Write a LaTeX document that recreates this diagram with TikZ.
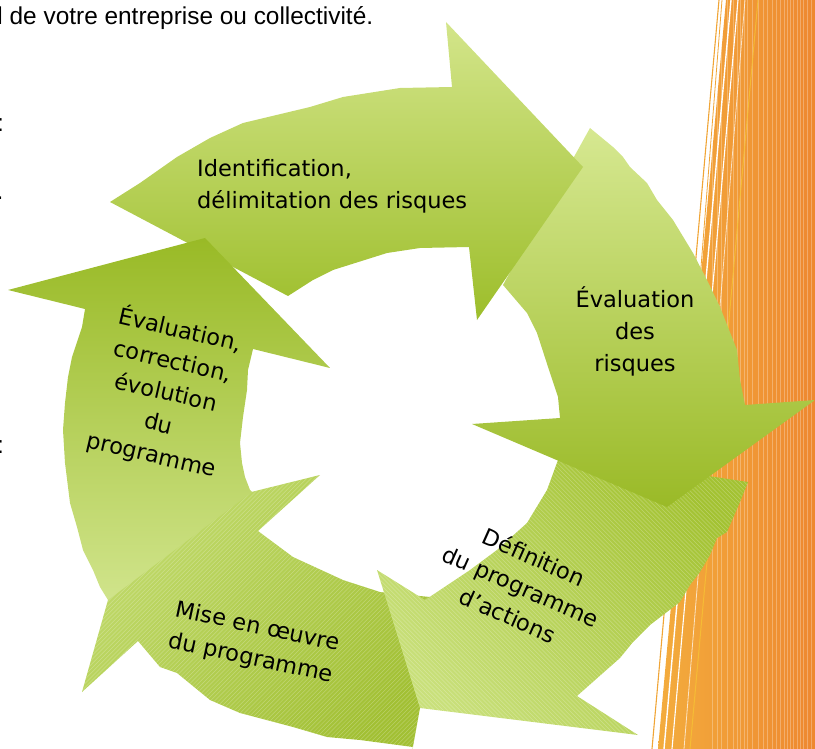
\documentclass[tikz,border=0pt]{standalone}
\usepackage{fontspec}
\setmainfont{DejaVu Sans}
\newfontfamily\arialfont{Liberation Sans}
\definecolor{orL}{HTML}{F3AC3D}
\definecolor{orR}{HTML}{EE8830}
\definecolor{orS}{HTML}{F0A536}
\definecolor{orY}{HTML}{F6C234}
\definecolor{aTop}{HTML}{D3E58A}
\definecolor{aBot}{HTML}{9DBE2B}
\definecolor{bTop}{HTML}{D6E891}
\definecolor{bBot}{HTML}{9ABA27}
\definecolor{eTop}{HTML}{99BA26}
\definecolor{eBot}{HTML}{D0E48B}
\definecolor{cDark}{HTML}{A3C232}
\definecolor{cLight}{HTML}{C9E07B}
\definecolor{dLight}{HTML}{C2DB6E}
\definecolor{dDark}{HTML}{A2C034}
\def\pathA{(110,202) -- (140,183) -- (177,157) -- (210,138) -- (243,123) -- (310,107) -- (343,97) -- (400,88) -- (452,87) -- (446,22) -- (583,167) -- (477,320) -- (469,247) -- (420,248) -- (387,253) -- (333,270) -- (313,280) -- (288,296) -- cycle}
\def\pathB{(590,128) -- (613,147) -- (623,157) -- (630,167) -- (647,183) -- (657,200) -- (673,220) -- (693,253) -- (707,280) -- (720,307) -- (737,350) -- (740,380) -- (745,405) -- (815,400) -- (667,507) -- (472,424) -- (560,418) -- (558,397) -- (550,373) -- (537,333) -- (527,313) -- (503,285) -- cycle}
\def\pathC{(748,482) -- (740,502) -- (727,532) -- (717,538) -- (710,555) -- (700,572) -- (690,585) -- (680,602) -- (650,625) -- (633,642) -- (620,658) -- (603,673) -- (577,696) -- (638,735) -- (420,708) -- (377,570) -- (425,600) -- (470,570) -- (497,550) -- (527,523) -- (547,490) -- (558,460) -- (556,453) -- cycle}
\def\pathD{(412,752) -- (413,747) -- (360,740) -- (327,737) -- (293,727) -- (240,713) -- (210,700) -- (177,673) -- (160,667) -- (138,641) -- (82,692) -- (130,522) -- (320,475) -- (258,531) -- (293,557) -- (343,580) -- (380,592) -- (440,598) -- cycle}
\def\pathE{(108,600) -- (100,587) -- (93,570) -- (83,550) -- (77,527) -- (70,503) -- (65,463) -- (63,430) -- (65,403) -- (68,377) -- (72,357) -- (82,327) -- (85,309) -- (8,290) -- (205,238) -- (330,368) -- (253,349) -- (248,370) -- (247,390) -- (243,417) -- (240,443) -- (242,463) -- (245,477) -- (250,490) -- (252,492) -- cycle}
\def\pathBand{(726,0) -- (815,0) -- (815,749) -- (658,749) -- cycle}
\begin{document}
\begin{tikzpicture}[x=1pt,y=-1pt,
  lbl/.style={inner sep=0pt, font=\fontsize{22.5}{32}\selectfont, align=center, text=black},
  side/.style={inner sep=0pt, font=\arialfont\fontsize{24.4}{28}\selectfont, text=black},
  hatchline/.style={white, opacity=0.26, line width=0.5pt},
  vline/.style={white, opacity=0.28, line width=0.5pt},
  strand/.style={line width=1.1pt}]
\useasboundingbox (0,0) rectangle (815,749);
\clip (0,0) rectangle (815,749);
% orange band
\shade[left color=orL, right color=orR] \pathBand;
\begin{scope}
  \clip \pathBand;
  \foreach \x in {712,717,721,727,733,737,740,744,747,752,758,763,767,772,776,780,784,787,790,793,797,800,803,807,811}
    \draw[vline] (\x,0) -- (\x,749);
\end{scope}
\draw[white, line width=1.4pt] (731,0) -- (664,749);
\draw[white, line width=1.1pt] (738,0) -- (672,749);
\draw[white, opacity=0.7, line width=0.8pt] (745,0) -- (684,749);
\draw[orY, opacity=0.8, line width=1pt] (758,0) -- (690,749);
\draw[orS, strand] (719,0) -- (652,749);
\draw[orS, line width=0.8pt] (722,0) -- (700,280);
% bottom-left arrow (D)
\shade[top color=dLight, bottom color=dDark, shading angle=45] \pathD;
\begin{scope}
  \clip \pathD;
  \foreach \c in {550,554.2,...,1200}
    \draw[hatchline] (60,\c-60) -- (470,\c-470);
\end{scope}
% bottom-right arrow (C)
\shade[top color=cDark, bottom color=cLight, shading angle=-45] \pathC;
\begin{scope}
  \clip \pathC;
  \foreach \c in {-300,-295.8,...,365}
    \draw[hatchline] (370,370+\c) -- (760,760+\c);
\end{scope}
% right arrow (B)
\shade[top color=bTop, bottom color=bBot] \pathB;
% top arrow (A)
\shade[top color=aTop, bottom color=aBot] \pathA;
% left arrow (E)
\shade[top color=eTop, bottom color=eBot] \pathE;
% labels
\node[lbl, anchor=north west, align=left] (tA) at (197,159) {Identification,\\délimitation des risques};
\node[lbl, anchor=north] (tB) at (635,286) {Évaluation\\des\\risques};
\node[lbl, rotate=-24] (tC) at (521,586) {Définition\\du programme\\d’actions};
\node[lbl, rotate=-12] (tD) at (254,643) {Mise en œuvre\\du programme};
\node[lbl, rotate=-13] (tE) at (166,392) {Évaluation,\\correction,\\évolution\\du\\programme};
% text from the page around the diagram
\node[side, anchor=base west] (top) at (-2.7,25) {l de votre entreprise ou collectivité.};
\node[side, anchor=base east] (f1) at (4,132) {:};
\node[side, anchor=base east] (f2) at (3.5,200) {.};
\node[side, anchor=base east] (f3) at (4,453) {:};
\end{tikzpicture}
\end{document}
